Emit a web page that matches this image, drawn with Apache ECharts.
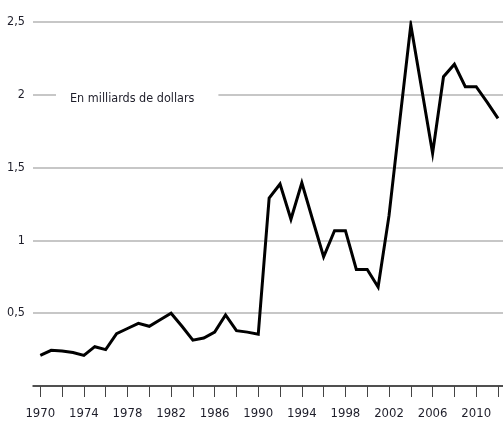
<!DOCTYPE html>
<html>
<head>
<meta charset="utf-8">
<script src="https://cdn.jsdelivr.net/npm/echarts@6/dist/echarts.min.js"></script>
<style>html,body{margin:0;padding:0;background:#fff;}#c{width:503px;height:428px;}</style>
</head>
<body>
<div id="c"></div>
<script>
const years = [1970,1971,1972,1973,1974,1975,1976,1977,1978,1979,1980,1981,1982,1983,1984,1985,1986,1987,1988,1989,1990,1991,1992,1993,1994,1995,1996,1997,1998,1999,2000,2001,2002,2003,2004,2005,2006,2007,2008,2009,2010,2011,2012];
const values = [0.21,0.245,0.24,0.23,0.21,0.27,0.25,0.36,0.395,0.43,0.41,0.455,0.50,0.41,0.315,0.33,0.37,0.488,0.38,0.37,0.355,1.29,1.387,1.145,1.396,1.14,0.888,1.067,1.067,0.80,0.80,0.68,1.17,1.83,2.48,2.04,1.598,2.124,2.21,2.056,2.056,1.95,1.838];
const tickYears = [1970,1972,1974,1976,1978,1980,1982,1984,1986,1988,1990,1992,1994,1996,1998,2000,2002,2004,2006,2008,2010,2012];
const labelYears = [1970,1974,1978,1982,1986,1990,1994,1998,2002,2006,2010];
const unitLabel = 'En milliards de dollars';

const FONT = "'Liberation Sans Narrow', 'DejaVu Sans Condensed', 'Roboto', sans-serif";
const chart = echarts.init(document.getElementById('c'), null, {renderer: 'canvas'});
chart.setOption({
  animation: false,
  backgroundColor: '#fff',
  title: {
    text: unitLabel,
    left: 56,
    top: 89,
    padding: [2, 24, 2, 14],
    backgroundColor: '#fff',
    textStyle: {fontFamily: FONT, fontSize: 12.5, fontWeight: 'normal', color: '#1e1e2a', lineHeight: 16}
  },
  grid: {left: 33, right: 0, top: 22, bottom: 42, containLabel: false},
  xAxis: {
    type: 'value',
    min: 1969.33,
    max: 2012.46,
    axisLine: {show: true, lineStyle: {color: '#2a2a2a', width: 1.5}},
    axisTick: {show: true, customValues: tickYears, length: 11, lineStyle: {color: '#444', width: 1}},
    axisLabel: {customValues: labelYears, margin: 21, fontFamily: FONT, fontSize: 13, color: '#1e1e2a', formatter: v => String(v)},
    splitLine: {show: false}
  },
  yAxis: {
    type: 'value',
    min: 0,
    max: 2.5,
    interval: 0.5,
    axisLine: {show: false},
    axisTick: {show: false},
    axisLabel: {margin: 8, fontFamily: FONT, fontSize: 12.5, color: '#1e1e2a',
      formatter: v => v === 0 ? '' : String(v).replace('.', ',')},
    splitLine: {show: true, lineStyle: {color: '#b4b4b4', width: 1.5}}
  },
  series: [{
    type: 'line',
    data: years.map((y, i) => [y, values[i]]),
    symbol: 'none',
    lineStyle: {color: '#000', width: 3, join: 'miter'},
    z: 3
  }]
});
</script>
</body>
</html>
